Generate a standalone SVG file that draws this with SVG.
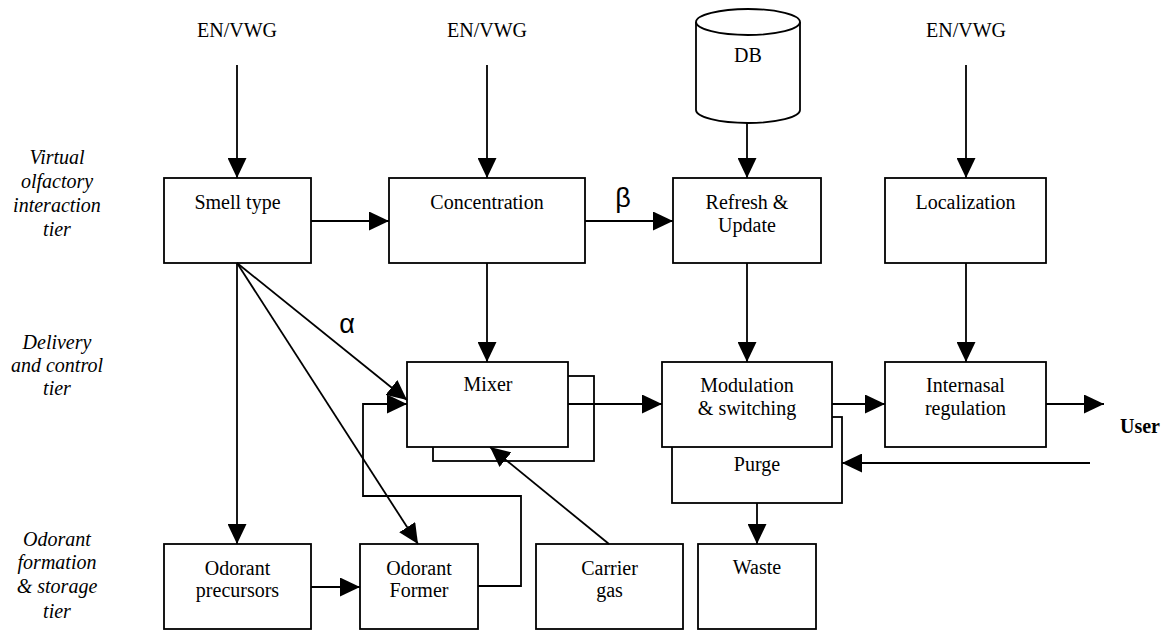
<svg xmlns="http://www.w3.org/2000/svg" width="1166" height="630" viewBox="0 0 1166 630">
<style>
.box{fill:#fff;stroke:#000;stroke-width:1.8}
.t{font-family:'Liberation Serif',serif;font-size:20px;text-anchor:middle;fill:#000}
.tier{font-family:'Liberation Serif',serif;font-size:20px;font-style:italic;text-anchor:middle;fill:#000}
.greek{font-family:'Liberation Sans',sans-serif;font-size:27px;text-anchor:middle;fill:#000}
.c{fill:none;stroke:#000;stroke-width:1.8}
</style>
<defs>
<marker id="ah" markerUnits="userSpaceOnUse" markerWidth="20" markerHeight="19" refX="20" refY="9.5" orient="auto">
<path d="M0,0 L20,9.5 L0,19 z" fill="#000"/>
</marker>
</defs>
<rect width="1166" height="630" fill="#fff"/>

<g id="tier-labels">
<text class="tier" x="57" y="164">Virtual</text>
<text class="tier" x="57" y="188">olfactory</text>
<text class="tier" x="57" y="212">interaction</text>
<text class="tier" x="57" y="236">tier</text>
<text class="tier" x="57" y="349">Delivery</text>
<text class="tier" x="57" y="372">and control</text>
<text class="tier" x="57" y="395">tier</text>
<text class="tier" x="57" y="546">Odorant</text>
<text class="tier" x="57" y="569">formation</text>
<text class="tier" x="57" y="593">&amp; storage</text>
<text class="tier" x="57" y="618">tier</text>
</g>

<g id="src1"><text class="t" x="237" y="37">EN/VWG</text></g>
<g id="src2"><text class="t" x="487" y="37">EN/VWG</text></g>
<g id="src3"><text class="t" x="966" y="37">EN/VWG</text></g>

<g id="db">
<path class="box" d="M696,22 L696,110 A52,13 0 0 0 800,110 L800,22"/>
<ellipse class="box" cx="748" cy="22" rx="52" ry="13"/>
<text class="t" x="748" y="62">DB</text>
</g>

<g id="smell"><rect class="box" x="164" y="178" width="147" height="85"/><text class="t" x="237.5" y="209">Smell type</text></g>
<g id="concentration"><rect class="box" x="389" y="178" width="196" height="85"/><text class="t" x="487" y="209">Concentration</text></g>
<g id="refresh"><rect class="box" x="673" y="178" width="148" height="85"/><text class="t" x="747" y="209">Refresh &amp;</text><text class="t" x="747" y="232">Update</text></g>
<g id="localization"><rect class="box" x="885" y="178" width="161" height="85"/><text class="t" x="965.5" y="209">Localization</text></g>

<g id="mixer">
<rect class="box" x="433" y="376" width="161" height="85"/>
<rect class="box" x="407" y="362" width="161" height="85"/>
<text class="t" x="488" y="391">Mixer</text>
</g>
<g id="modulation">
<rect class="box" x="672" y="417" width="170" height="86"/>
<text class="t" x="757" y="471">Purge</text>
<rect class="box" x="662" y="362" width="170" height="85"/>
<text class="t" x="747" y="392">Modulation</text>
<text class="t" x="747" y="415">&amp; switching</text>
</g>
<g id="internasal"><rect class="box" x="885" y="362" width="161" height="85"/><text class="t" x="965.5" y="392">Internasal</text><text class="t" x="965.5" y="415">regulation</text></g>
<g id="user"><text class="t" x="1140" y="433" font-weight="bold">User</text></g>

<g id="precursors"><rect class="box" x="164" y="544" width="147" height="85"/><text class="t" x="237.5" y="575">Odorant</text><text class="t" x="237.5" y="597">precursors</text></g>
<g id="former"><rect class="box" x="360" y="544" width="118" height="85"/><text class="t" x="419" y="575">Odorant</text><text class="t" x="419" y="597">Former</text></g>
<g id="carrier"><rect class="box" x="536" y="544" width="147" height="85"/><text class="t" x="609.5" y="575">Carrier</text><text class="t" x="609.5" y="597">gas</text></g>
<g id="waste"><rect class="box" x="698" y="544" width="118" height="85"/><text class="t" x="757" y="574">Waste</text></g>

<g id="connectors">
<line class="c" x1="237" y1="65" x2="237" y2="178" marker-end="url(#ah)"/>
<line class="c" x1="487" y1="65" x2="487" y2="178" marker-end="url(#ah)"/>
<line class="c" x1="747" y1="123" x2="747" y2="178" marker-end="url(#ah)"/>
<line class="c" x1="966" y1="65" x2="966" y2="178" marker-end="url(#ah)"/>
<line class="c" x1="311" y1="221" x2="389" y2="221" marker-end="url(#ah)"/>
<line class="c" x1="585" y1="221" x2="673" y2="221" marker-end="url(#ah)"/>
<line class="c" x1="487" y1="263" x2="487" y2="362" marker-end="url(#ah)"/>
<line class="c" x1="747" y1="263" x2="747" y2="362" marker-end="url(#ah)"/>
<line class="c" x1="966" y1="263" x2="966" y2="362" marker-end="url(#ah)"/>
<line class="c" x1="237" y1="263" x2="407" y2="400" marker-end="url(#ah)"/>
<line class="c" x1="237" y1="263" x2="418" y2="544" marker-end="url(#ah)"/>
<line class="c" x1="237" y1="263" x2="237" y2="544" marker-end="url(#ah)"/>
<line class="c" x1="311" y1="587" x2="360" y2="587" marker-end="url(#ah)"/>
<polyline class="c" points="478,586 521,586 521,496 363,496 363,404 407,404" marker-end="url(#ah)"/>
<line class="c" x1="609" y1="544" x2="490" y2="447" marker-end="url(#ah)"/>
<line class="c" x1="568" y1="404" x2="662" y2="404" marker-end="url(#ah)"/>
<line class="c" x1="832" y1="404" x2="885" y2="404" marker-end="url(#ah)"/>
<line class="c" x1="1046" y1="404" x2="1104" y2="404" marker-end="url(#ah)"/>
<line class="c" x1="1090" y1="463" x2="842" y2="463" marker-end="url(#ah)"/>
<line class="c" x1="757" y1="503" x2="757" y2="544" marker-end="url(#ah)"/>
<text class="greek" x="347" y="333">α</text>
<text class="greek" x="623" y="207">β</text>
</g>
</svg>
